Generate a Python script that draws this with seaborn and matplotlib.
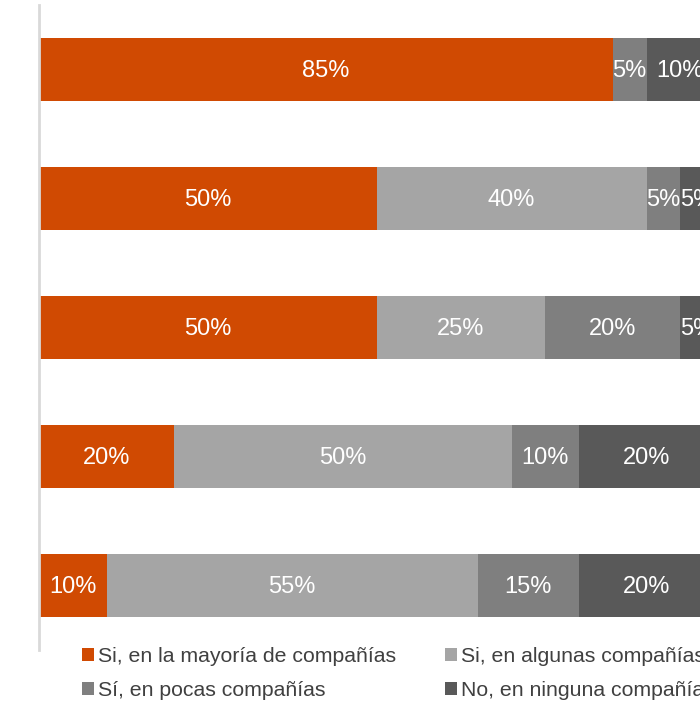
import numpy as np
import pandas as pd
import matplotlib
matplotlib.use("Agg")
import matplotlib.pyplot as plt
from matplotlib.patches import Patch
import seaborn as sns

sns.set_theme(style="white")
plt.rcParams['font.family'] = ['Liberation Sans', 'DejaVu Sans']

categories = ["P1", "P2", "P3", "P4", "P5"]
mayoria = [85, 50, 50, 20, 10]
algunas = [0, 40, 25, 50, 55]
pocas = [5, 5, 20, 10, 15]
ninguna = [10, 5, 5, 20, 20]

series_names = ["Si, en la mayoría de compañías", "Si, en algunas compañías",
                "Sí, en pocas compañías", "No, en ninguna compañía"]
colors = ["#D04A02", "#A5A5A5", "#7F7F7F", "#595959"]

df = pd.DataFrame({"cat": categories, "s0": mayoria, "s1": algunas,
                   "s2": pocas, "s3": ninguna})
cols = ["s0", "s1", "s2", "s3"]
cum = df[cols].cumsum(axis=1)

fig = plt.figure(figsize=(7, 7.02), dpi=100)
ax = fig.add_axes([39 / 700, 52 / 702, 675 / 700, 645 / 702])

# stacked bars: draw cumulative totals back to front
for i in reversed(range(4)):
    sns.barplot(x=cum[cols[i]], y=df["cat"], orient="h", color=colors[i],
                width=0.495, saturation=1, ax=ax, linewidth=0)

for i in range(4):
    vals = df[cols[i]]
    starts = cum[cols[i]] - vals
    for j, v in enumerate(vals):
        if v > 0:
            ax.text(starts[j] + v / 2, j + 0.015, f"{v}%", ha="center", va="center",
                    color="white", fontsize=17)

ax.set_xlim(0, 100)
ax.set_ylim(4.5, -0.5)
ax.set_xlabel("")
ax.set_ylabel("")
ax.set_xticks([])
ax.set_yticks([])
for s in ["top", "right", "bottom"]:
    ax.spines[s].set_visible(False)
ax.spines["left"].set_color("#D9D9D9")
ax.spines["left"].set_linewidth(2)

# legend filled row by row like the original
handles = [Patch(facecolor=c, edgecolor="none", label=n) for c, n in zip(colors, series_names)]
handles = [handles[0], handles[2], handles[1], handles[3]]
fig.legend(handles=handles, ncol=2, loc="upper left", bbox_to_anchor=(82 / 700, 1 - 647 / 702),
           frameon=False, fontsize=15.3, handlelength=0.57, handleheight=0.57,
           handletextpad=0.19, columnspacing=2.3, labelspacing=0.7, borderpad=0,
           borderaxespad=0, labelcolor="#404040")

fig.savefig("out.png", dpi=100)
